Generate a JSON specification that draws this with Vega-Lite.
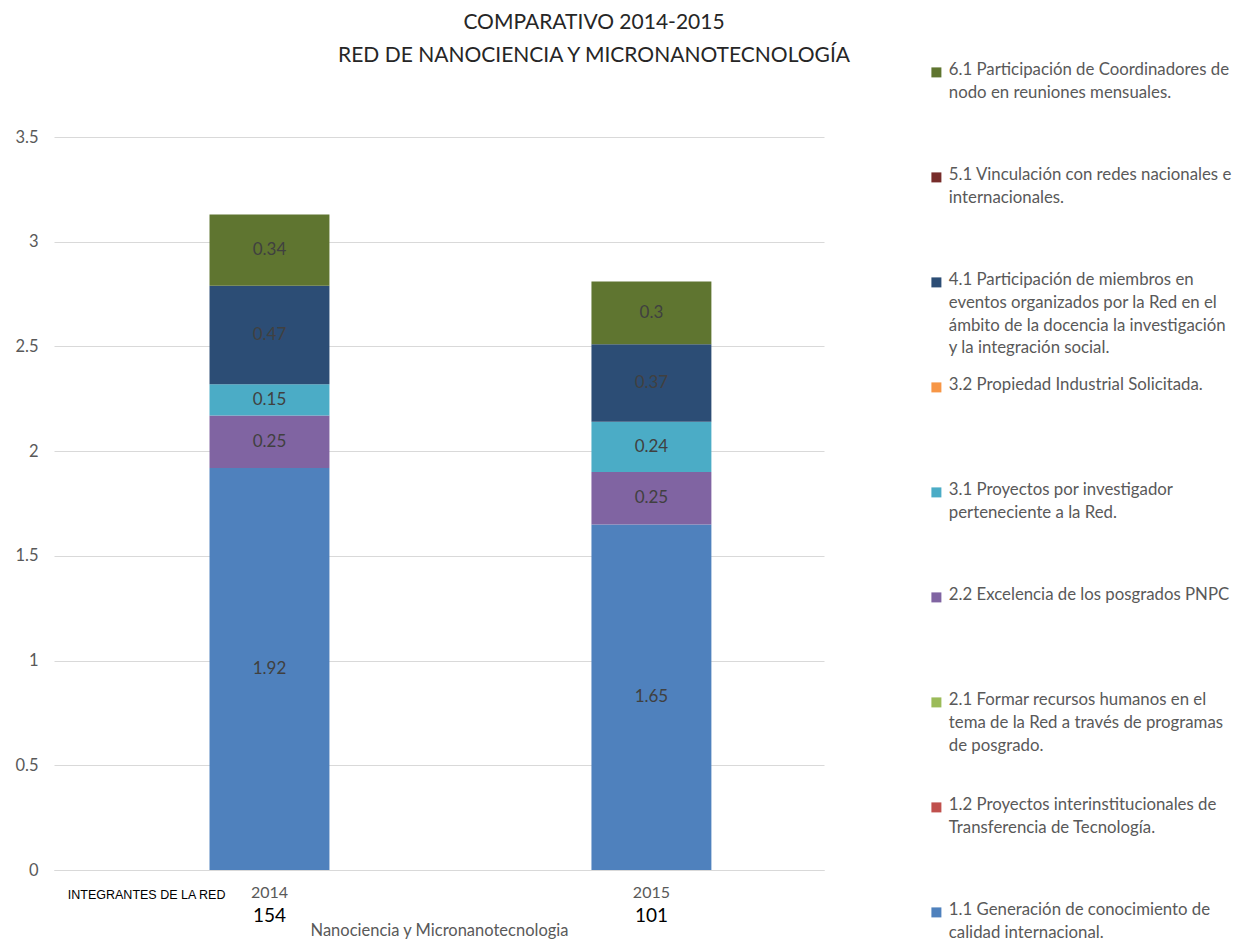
{
  "$schema": "https://vega.github.io/schema/vega-lite/v6.json",
  "width": 770,
  "height": 733,
  "padding": {"left": 14, "top": 12, "right": 5, "bottom": 0},
  "background": "white",
  "config": {
    "view": {"stroke": null},
    "font": "Lato"
  },
  "title": {
    "text": ["COMPARATIVO 2014-2015", "RED DE NANOCIENCIA Y MICRONANOTECNOLOGÍA"],
    "fontSize": 21,
    "fontWeight": "normal",
    "color": "#262626",
    "lineHeight": 33,
    "anchor": "middle",
    "frame": "group",
    "dx": 155,
    "offset": -2
  },
  "datasets": {
    "bars": [
      {"anio": "2014", "serie": "1.1 Generación de conocimiento de calidad internacional.", "valor": 1.92},
      {"anio": "2014", "serie": "2.2 Excelencia de los posgrados PNPC", "valor": 0.25},
      {"anio": "2014", "serie": "3.1 Proyectos por investigador perteneciente a la Red.", "valor": 0.15},
      {"anio": "2014", "serie": "4.1 Participación de miembros en eventos organizados por la Red en el ámbito de la docencia la investigación y la integración social.", "valor": 0.47},
      {"anio": "2014", "serie": "6.1 Participación de Coordinadores de nodo en reuniones mensuales.", "valor": 0.34},
      {"anio": "2015", "serie": "1.1 Generación de conocimiento de calidad internacional.", "valor": 1.65},
      {"anio": "2015", "serie": "2.2 Excelencia de los posgrados PNPC", "valor": 0.25},
      {"anio": "2015", "serie": "3.1 Proyectos por investigador perteneciente a la Red.", "valor": 0.24},
      {"anio": "2015", "serie": "4.1 Participación de miembros en eventos organizados por la Red en el ámbito de la docencia la investigación y la integración social.", "valor": 0.37},
      {"anio": "2015", "serie": "6.1 Participación de Coordinadores de nodo en reuniones mensuales.", "valor": 0.3}
    ],
    "integrantes": [
      {"anio": "2014", "integrantes": 154},
      {"anio": "2015", "integrantes": 101}
    ],
    "rotulo": [
      {"anio": "2014", "texto": "INTEGRANTES DE LA RED"}
    ]
  },
  "encoding": {
    "x": {
      "field": "anio",
      "type": "nominal",
      "scale": {"type": "band", "paddingInner": 0.686, "paddingOuter": 0.351, "align": 0.58},
      "axis": {
        "title": "Nanociencia y Micronanotecnologia",
        "titleFont": "Lato",
        "titleFontSize": 16.5,
        "titleFontWeight": "normal",
        "titleColor": "#595959",
        "titlePadding": 22,
        "labelAngle": 0,
        "labelFontSize": 16,
        "labelColor": "#595959",
        "labelPadding": 14,
        "domain": true,
        "domainColor": "#d9d9d9",
        "ticks": false,
        "grid": false
      }
    }
  },
  "layer": [
    {
      "data": {"name": "bars"},
      "transform": [
        {"stack": "valor", "groupby": ["anio"], "sort": [{"field": "serie", "order": "ascending"}], "as": ["y0", "y1"]}
      ],
      "mark": {"type": "bar"},
      "encoding": {
        "y": {
          "field": "y0",
          "type": "quantitative",
          "scale": {"domain": [0, 3.5], "nice": false},
          "axis": {
            "title": null,
            "values": [0, 0.5, 1, 1.5, 2, 2.5, 3, 3.5],
            "format": "~g",
            "labelFontSize": 16.5,
            "labelColor": "#595959",
            "labelPadding": 16,
            "domain": false,
            "ticks": false,
            "grid": true,
            "gridColor": "#d9d9d9"
          }
        },
        "y2": {"field": "y1"},
        "color": {
          "field": "serie",
          "type": "nominal",
          "scale": {
            "domain": [
              "6.1 Participación de Coordinadores de nodo en reuniones mensuales.",
              "5.1 Vinculación con redes nacionales e internacionales.",
              "4.1 Participación de miembros en eventos organizados por la Red en el ámbito de la docencia la investigación y la integración social.",
              "3.2 Propiedad Industrial Solicitada.",
              "3.1 Proyectos por investigador perteneciente a la Red.",
              "2.2 Excelencia de los posgrados PNPC",
              "2.1 Formar recursos humanos en el tema de la Red a través de programas de posgrado.",
              "1.2 Proyectos interinstitucionales de Transferencia de Tecnología.",
              "1.1 Generación de conocimiento de calidad internacional."
            ],
            "range": ["#5F7530", "#772C2A", "#2C4D75", "#F79646", "#4BACC6", "#8064A2", "#9BBB59", "#C0504D", "#4F81BD"]
          },
          "legend": {
            "title": null,
            "orient": "none",
            "legendX": 874,
            "legendY": -73,
            "symbolType": "square",
            "symbolSize": 100,
            "symbolStrokeWidth": 0,
            "labelFont": "Lato",
            "labelFontSize": 16.8,
            "labelColor": "#595959",
            "labelLimit": 330,
            "labelOffset": 4,
            "labelBaseline": "top",
            "rowPadding": 19,
            "encode": {
              "labels": {"update": {"lineHeight": {"value": 22.7}, "dy": {"value": -10}}}
            },
            "labelExpr": "substring(datum.label,0,3)=='6.1' ? ['6.1 Participación de Coordinadores de','nodo en reuniones mensuales.','',''] : substring(datum.label,0,3)=='5.1' ? ['5.1 Vinculación con redes nacionales e','internacionales.','',''] : substring(datum.label,0,3)=='4.1' ? ['4.1 Participación de miembros en','eventos organizados por la Red en el','ámbito de la docencia la investigación','y la integración social.'] : substring(datum.label,0,3)=='3.2' ? ['3.2 Propiedad Industrial Solicitada.','','',''] : substring(datum.label,0,3)=='3.1' ? ['3.1 Proyectos por investigador','perteneciente a la Red.','',''] : substring(datum.label,0,3)=='2.2' ? ['2.2 Excelencia de los posgrados PNPC','','',''] : substring(datum.label,0,3)=='2.1' ? ['2.1 Formar recursos humanos en el','tema de la Red a través de programas','de posgrado.',''] : substring(datum.label,0,3)=='1.2' ? ['1.2 Proyectos interinstitucionales de','Transferencia de Tecnología.','',''] : ['1.1 Generación de conocimiento de','calidad internacional.','','']"
          }
        }
      }
    },
    {
      "data": {"name": "bars"},
      "transform": [
        {"stack": "valor", "groupby": ["anio"], "sort": [{"field": "serie", "order": "ascending"}], "as": ["y0", "y1"]},
        {"calculate": "(datum.y0 + datum.y1) / 2", "as": "ymid"}
      ],
      "mark": {"type": "text", "fontSize": 17, "color": "#404040", "baseline": "middle"},
      "encoding": {
        "y": {"field": "ymid", "type": "quantitative"},
        "text": {"field": "valor", "type": "quantitative"}
      }
    },
    {
      "data": {"name": "integrantes"},
      "mark": {"type": "text", "fontSize": 19, "color": "#000000", "baseline": "middle", "dy": 46},
      "encoding": {
        "y": {"datum": 0, "type": "quantitative"},
        "text": {"field": "integrantes", "type": "quantitative"}
      }
    },
    {
      "data": {"name": "rotulo"},
      "mark": {"type": "text", "fontSize": 12.5, "color": "#000000", "baseline": "middle", "align": "right", "dx": -44, "dy": 25, "font": "Liberation Sans"},
      "encoding": {
        "y": {"datum": 0, "type": "quantitative"},
        "text": {"field": "texto", "type": "nominal"}
      }
    }
  ]
}
